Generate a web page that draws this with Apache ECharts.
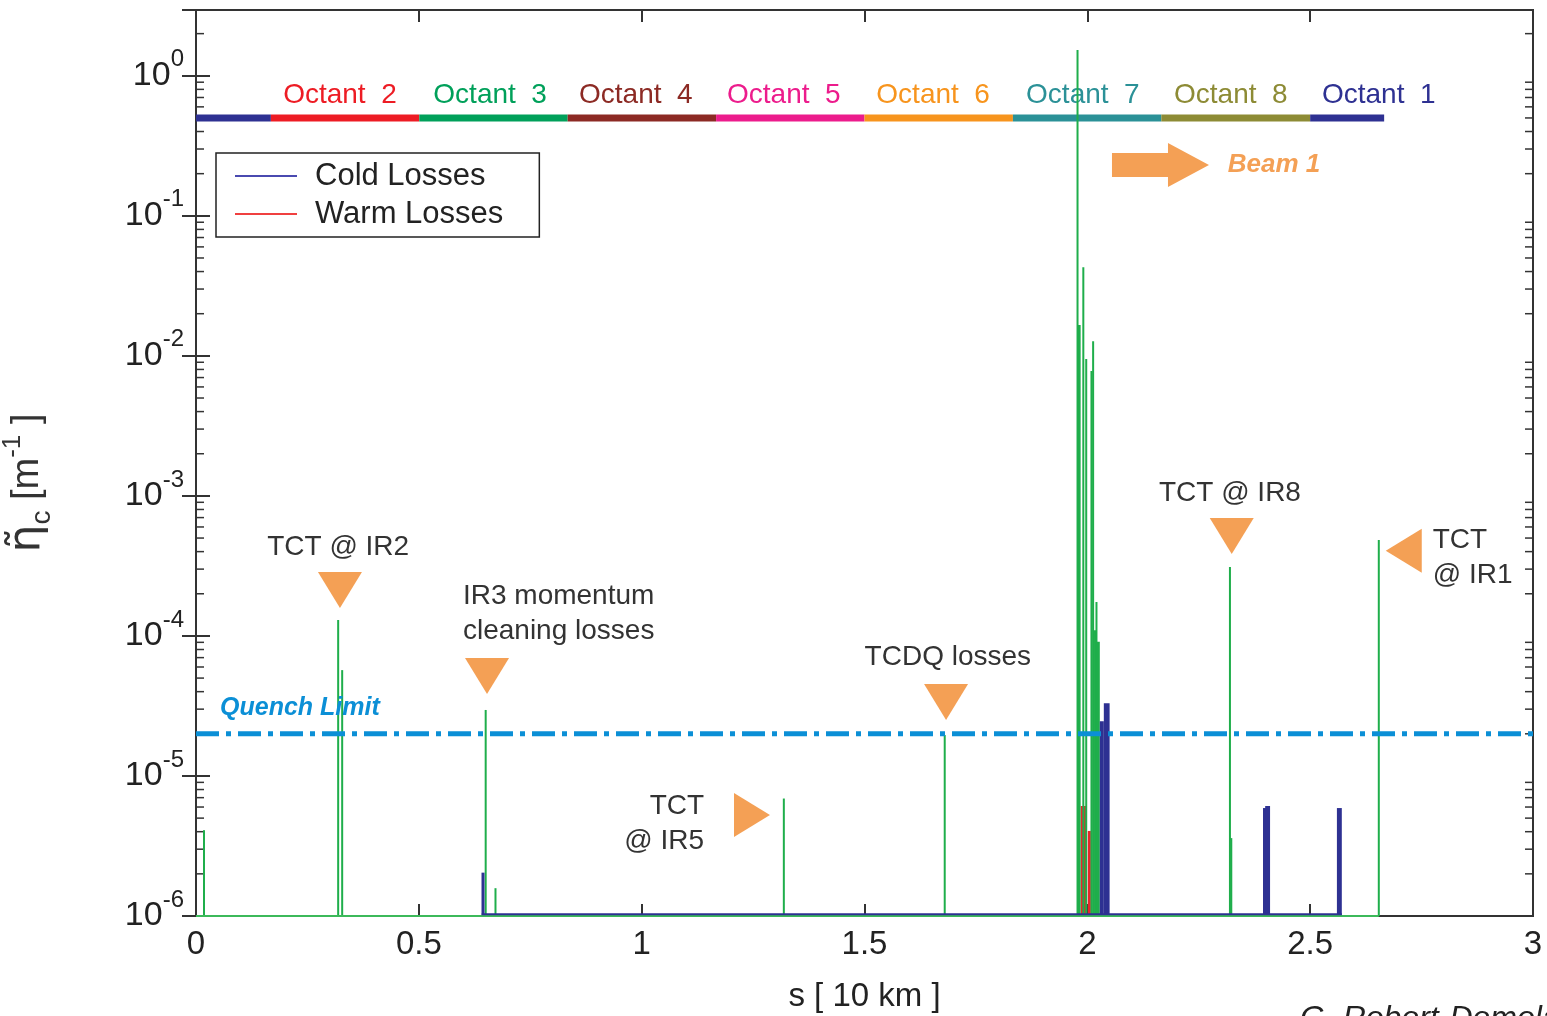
<!DOCTYPE html>
<html>
<head>
<meta charset="utf-8">
<style>
  html, body { margin: 0; padding: 0; background: #fff; }
  #chart { width: 1547px; height: 1016px; }
</style>
<script src="https://cdn.jsdelivr.net/npm/echarts@6/dist/echarts.min.js"></script>
</head>
<body>
<div id="chart"></div>
<script>
// x ticks, s in units of 10 km
const xTicks = [0, 0.5, 1, 1.5, 2, 2.5, 3];

// octant ring: [start s, end s, octant number]
const octantSegments = [
  [0, 0.168, 1], [0.168, 0.501, 2], [0.501, 0.834, 3], [0.834, 1.167, 4],
  [1.167, 1.5, 5], [1.5, 1.833, 6], [1.833, 2.166, 7], [2.166, 2.5, 8], [2.5, 2.666, 1]
];
// octant label: [s of label centre, octant number]
const octantLabels = [
  [0.323, 2], [0.66, 3], [0.987, 4], [1.319, 5], [1.654, 6], [1.99, 7], [2.322, 8], [2.654, 1]
];

// losses: [s start, s end, eta]
const otherLosses = [
  [0.018, 0.018, 4.1e-6], [0.319, 0.319, 1.3e-4], [0.328, 0.328, 5.7e-5],
  [0.650, 0.650, 2.96e-5], [0.672, 0.672, 1.58e-6], [1.319, 1.319, 6.9e-6],
  [1.680, 1.680, 1.96e-5],
  [1.977, 1.985, 1.66e-2], [1.978, 1.978, 1.53], [1.989, 1.993, 4.3e-2],
  [1.996, 1.999, 9.5e-3], [2.007, 2.012, 7.8e-3], [2.011, 2.015, 1.27e-2],
  [2.015, 2.020, 1.1e-4], [2.019, 2.022, 1.75e-4], [2.021, 2.028, 9.1e-5],
  [2.320, 2.320, 3.1e-4], [2.323, 2.323, 3.6e-6], [2.654, 2.654, 4.85e-4]
];
const warmLosses = [
  [1.985, 1.999, 6.1e-6], [2.001, 2.008, 4.05e-6]
];
const coldLosses = [
  [0.641, 0.647, 2.04e-6], [2.028, 2.037, 2.46e-5], [2.037, 2.050, 3.3e-5],
  [2.396, 2.399, 5.9e-6], [2.399, 2.410, 6.1e-6], [2.560, 2.571, 5.9e-6]
];
const otherBaseline = [[0, 1e-6], [2.654, 1e-6]];
const coldBaseline = [[0.641, 1.03e-6], [2.571, 1.03e-6]];
const quenchLimit = 2e-5;

// annotations: [s, eta, pointing direction]
const markers = [
  [0.323, 2.13e-4, 'down'], [0.653, 5.18e-5, 'down'], [1.683, 3.38e-5, 'down'],
  [1.2475, 5.26e-6, 'right'], [2.324, 5.18e-4, 'down'], [2.710, 4.05e-4, 'left']
];
// [text, s, eta, align]
const notes = [
  ['TCT @ IR2', 0.319, 4.33e-4, 'center'],
  ['IR3 momentum\ncleaning losses', 0.599, 1.43e-4, 'left'],
  ['TCDQ losses', 1.687, 7.08e-5, 'center'],
  ['TCT\n@ IR5', 1.140, 4.58e-6, 'right'],
  ['TCT @ IR8', 2.320, 1.05e-3, 'center'],
  ['TCT\n@ IR1', 2.775, 3.64e-4, 'left']
];
const beamArrow = [2.163, 0.231];
const beamLabel = [2.315, 0.231];
const quenchLabel = [0.054, 3.06e-5];

const Y_MIN = 1e-6, Y_MAX = 2.95;
const FONT = "'Liberation Sans', Arial, Helvetica, sans-serif";
const ORANGE = '#f4a055';
const octantColors = {
  1: '#2e3192', 2: '#ed1c24', 3: '#00a05a', 4: '#8c2a24',
  5: '#ec1c8c', 6: '#f7941d', 7: '#2b9197', 8: '#8d8b35'
};

const minorTicks = [];
for (let e = -6; e <= 0; e++) {
  for (let m = 2; m <= 9; m++) {
    const v = m * Math.pow(10, e);
    if (v < Y_MAX) minorTicks.push([0, v]);
  }
}

function spikeRender(color, minWidth) {
  return function (params, api) {
    const top = api.coord([api.value(0), api.value(2)]);
    const end = api.coord([api.value(1), Y_MIN]);
    let x = top[0], w = end[0] - top[0];
    if (w < minWidth) { x -= (minWidth - w) / 2; w = minWidth; }
    return {
      type: 'rect',
      shape: { x: x, y: top[1], width: w, height: end[1] - top[1] },
      style: { fill: color }
    };
  };
}

function expLabel(value) {
  const l = Math.log10(value);
  const e = Math.round(l);
  if (Math.abs(l - e) > 1e-6) return '';
  return '{b|10}{s|' + e + '}';
}

const chart = echarts.init(document.getElementById('chart'));

const yAxisBase = {
  type: 'log',
  logBase: 10,
  min: Y_MIN,
  max: Y_MAX,
  axisLine: { show: true, lineStyle: { color: '#333', width: 2 } },
  axisTick: { show: true, inside: true, length: 14, lineStyle: { color: '#333', width: 2 } },
  splitLine: { show: false }
};
const xAxisBase = {
  type: 'value',
  min: 0,
  max: 3,
  interval: 0.5,
  axisLine: { show: true, lineStyle: { color: '#333', width: 2 } },
  axisTick: { show: true, inside: true, length: 12, lineStyle: { color: '#333', width: 2 } },
  splitLine: { show: false }
};

const option = {
  animation: false,
  backgroundColor: '#fff',
  textStyle: { fontFamily: FONT },
  grid: {
    left: 196, right: 14, top: 10, bottom: 100,
    containLabel: false, outerBoundsMode: 'none',
    show: true, borderColor: '#333', borderWidth: 2
  },
  legend: {
    orient: 'vertical',
    left: 216,
    top: 153,
    padding: [4, 36, 4, 19],
    itemWidth: 62,
    itemHeight: 2,
    itemGap: 0,
    selectedMode: false,
    borderColor: '#222',
    borderWidth: 1.5,
    backgroundColor: '#fff',
    textStyle: { fontSize: 31, color: '#222', lineHeight: 38, padding: [0, 0, 0, 13], fontFamily: FONT },
    data: [
      { name: 'Cold Losses', icon: 'rect', itemStyle: { color: '#4a4ab0' } },
      { name: 'Warm Losses', icon: 'rect', itemStyle: { color: '#f04040' } }
    ]
  },
  xAxis: [
    Object.assign({}, xAxisBase, {
      position: 'bottom',
      axisLabel: { fontSize: 33, color: '#222', margin: 12, fontFamily: FONT },
      name: 's [ 10 km ]',
      nameLocation: 'middle',
      nameGap: 64,
      nameTextStyle: { fontSize: 33, color: '#222', fontFamily: FONT }
    }),
    Object.assign({}, xAxisBase, { position: 'top', axisLabel: { show: false } })
  ],
  yAxis: [
    Object.assign({}, yAxisBase, {
      position: 'left',
      axisLabel: {
        margin: 12,
        showMaxLabel: false,
        formatter: expLabel,
        rich: {
          b: { fontSize: 34, lineHeight: 56, color: '#222', fontFamily: FONT },
          s: { fontSize: 24, lineHeight: 24, verticalAlign: 'top', color: '#222', fontFamily: FONT }
        }
      },
      name: '{e|η̃}{c|c}{t| [m}{p|-1}{t| ]}',
      nameLocation: 'middle',
      nameGap: 140,
      nameRotate: 90,
      nameTextStyle: {
        color: '#333',
        padding: [0, 40, 0, 0],
        rich: {
          e: { fontSize: 44, lineHeight: 56, color: '#333', fontFamily: "'DejaVu Sans', sans-serif" },
          c: { fontSize: 28, lineHeight: 28, verticalAlign: 'bottom', color: '#333', fontFamily: FONT },
          t: { fontSize: 38, lineHeight: 56, color: '#333', fontFamily: FONT },
          p: { fontSize: 26, lineHeight: 26, verticalAlign: 'top', color: '#333', fontFamily: FONT }
        }
      }
    }),
    Object.assign({}, yAxisBase, { position: 'right', axisLabel: { show: false } })
  ],
  graphic: [
    {
      type: 'text', left: 1300, top: 1003, silent: true,
      style: { text: 'G. Robert-Demolaize', font: 'italic 32px ' + FONT, fill: '#222' }
    }
  ],
  series: [
    {
      name: 'minor ticks',
      type: 'custom',
      silent: true,
      data: minorTicks,
      encode: { x: 0, y: 1 },
      renderItem: function (params, api) {
        const l = api.coord([0, api.value(1)]);
        const r = api.coord([3, api.value(1)]);
        const st = { stroke: '#333', lineWidth: 1.5 };
        return {
          type: 'group',
          children: [
            { type: 'line', shape: { x1: l[0], y1: l[1], x2: l[0] + 8, y2: l[1] }, style: st },
            { type: 'line', shape: { x1: r[0], y1: r[1], x2: r[0] - 8, y2: r[1] }, style: st }
          ]
        };
      }
    },
    {
      name: 'octants',
      type: 'custom',
      silent: true,
      data: octantSegments,
      encode: { x: [0, 1] },
      renderItem: function (params, api) {
        const a = api.coord([api.value(0), 0.5]);
        const b = api.coord([api.value(1), 0.5]);
        return {
          type: 'rect',
          shape: { x: a[0], y: a[1] - 3.5, width: b[0] - a[0], height: 7 },
          style: { fill: octantColors[api.value(2)] }
        };
      }
    },
    {
      name: 'octant labels',
      type: 'custom',
      silent: true,
      data: octantLabels,
      encode: { x: 0 },
      renderItem: function (params, api) {
        const p = api.coord([api.value(0), 0.5]);
        const n = api.value(1);
        return {
          type: 'text',
          x: p[0], y: p[1] - 23,
          style: {
            text: 'Octant  ' + n, fontSize: 28, fontFamily: FONT,
            fill: octantColors[n], align: 'center', verticalAlign: 'middle'
          }
        };
      }
    },
    {
      name: 'other baseline',
      type: 'line',
      silent: true,
      symbol: 'none',
      data: otherBaseline,
      lineStyle: { color: '#3cb95a', width: 2 }
    },
    {
      name: 'Warm Losses',
      type: 'custom',
      silent: true,
      data: warmLosses,
      encode: { x: [0, 1], y: 2 },
      itemStyle: { color: '#e8262b' },
      renderItem: spikeRender('#e8262b', 2)
    },
    {
      name: 'other losses',
      type: 'custom',
      silent: true,
      data: otherLosses,
      encode: { x: [0, 1], y: 2 },
      renderItem: spikeRender('#1fae4b', 2)
    },
    {
      name: 'cold baseline',
      type: 'line',
      silent: true,
      symbol: 'none',
      data: coldBaseline,
      lineStyle: { color: '#2e3192', width: 2 }
    },
    {
      name: 'Cold Losses',
      type: 'custom',
      silent: true,
      data: coldLosses,
      encode: { x: [0, 1], y: 2 },
      itemStyle: { color: '#2e3192' },
      renderItem: spikeRender('#2e3192', 3)
    },
    {
      name: 'Quench Limit',
      type: 'line',
      silent: true,
      symbol: 'none',
      data: [[0, quenchLimit], [3, quenchLimit]],
      lineStyle: { color: '#0b8fd6', width: 5, type: [23, 7, 5, 7] },
      z: 5
    },
    {
      name: 'markers',
      type: 'custom',
      silent: true,
      data: markers.map(function (m) { return [m[0], m[1]]; }),
      encode: { x: 0, y: 1 },
      z: 6,
      renderItem: function (params, api) {
        const p = api.coord([api.value(0), api.value(1)]);
        const dir = markers[params.dataIndex][2];
        let pts;
        if (dir === 'down') pts = [[p[0] - 22, p[1] - 18], [p[0] + 22, p[1] - 18], [p[0], p[1] + 18]];
        else if (dir === 'right') pts = [[p[0] - 18, p[1] - 22], [p[0] - 18, p[1] + 22], [p[0] + 18, p[1]]];
        else pts = [[p[0] + 18, p[1] - 22], [p[0] + 18, p[1] + 22], [p[0] - 18, p[1]]];
        return { type: 'polygon', shape: { points: pts }, style: { fill: ORANGE } };
      }
    },
    {
      name: 'notes',
      type: 'custom',
      silent: true,
      data: notes.map(function (n) { return [n[1], n[2]]; }),
      encode: { x: 0, y: 1 },
      z: 6,
      renderItem: function (params, api) {
        const p = api.coord([api.value(0), api.value(1)]);
        const n = notes[params.dataIndex];
        return {
          type: 'text', x: p[0], y: p[1],
          style: {
            text: n[0], fontSize: 28, fontFamily: FONT, fill: '#333',
            align: n[3], verticalAlign: 'middle', lineHeight: 35
          }
        };
      }
    },
    {
      name: 'beam',
      type: 'custom',
      silent: true,
      data: [beamArrow],
      encode: { x: 0, y: 1 },
      z: 6,
      renderItem: function (params, api) {
        const p = api.coord([api.value(0), api.value(1)]);
        const t = api.coord([beamLabel[0], beamLabel[1]]);
        return {
          type: 'group',
          children: [
            {
              type: 'polygon',
              shape: { points: [
                [p[0] - 48, p[1] - 12], [p[0] + 8, p[1] - 12], [p[0] + 8, p[1] - 22],
                [p[0] + 49, p[1]], [p[0] + 8, p[1] + 22], [p[0] + 8, p[1] + 12], [p[0] - 48, p[1] + 12]
              ] },
              style: { fill: ORANGE }
            },
            {
              type: 'text', x: t[0], y: t[1],
              style: {
                text: 'Beam 1', font: 'italic bold 26px ' + FONT, fill: ORANGE,
                align: 'left', verticalAlign: 'middle'
              }
            }
          ]
        };
      }
    },
    {
      name: 'quench label',
      type: 'custom',
      silent: true,
      data: [quenchLabel],
      encode: { x: 0, y: 1 },
      z: 6,
      renderItem: function (params, api) {
        const p = api.coord([api.value(0), api.value(1)]);
        return {
          type: 'text', x: p[0], y: p[1],
          style: {
            text: 'Quench Limit', font: 'italic bold 25px ' + FONT, fill: '#0b8fd6',
            align: 'left', verticalAlign: 'middle'
          }
        };
      }
    }
  ]
};

chart.setOption(option);
</script>
</body>
</html>
